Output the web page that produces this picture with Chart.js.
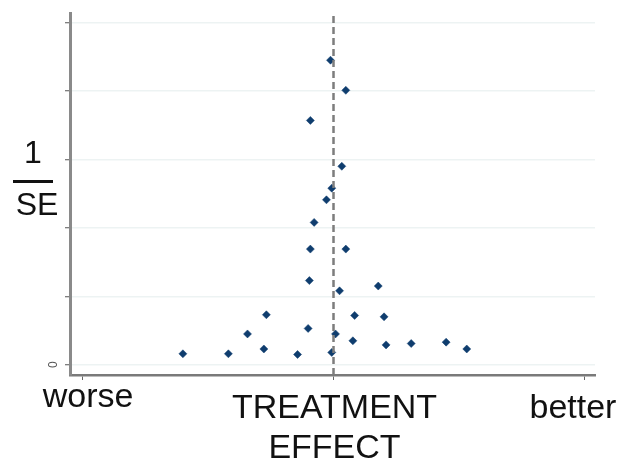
<!DOCTYPE html>
<html>
<head>
<meta charset="utf-8">
<script src="https://cdn.jsdelivr.net/npm/chart.js@4.4.1/dist/chart.umd.min.js"></script>
<style>
  html, body { margin: 0; padding: 0; background: #fff; }
  #wrap { width: 619px; height: 462px; }
</style>
</head>
<body>
<div id="wrap"><canvas id="funnel" width="619" height="462"></canvas></div>
<script>
// treatment effect (x) and precision 1/SE (y) of each study
const effects = [
  -0.012, 0.049, -0.092, 0.033, -0.007, -0.028, -0.077,
  -0.092, 0.049, -0.096, 0.178, 0.024, -0.267, 0.084,
  0.201, -0.101, -0.342, 0.008, 0.077, -0.277, 0.209,
  0.309, 0.448, 0.530, -0.599, -0.418, -0.143, -0.007,
];
const precision = [
  4.45, 4.01, 3.57, 2.90, 2.58, 2.41, 2.08,
  1.69, 1.69, 1.23, 1.15, 1.08, 0.73, 0.72,
  0.70, 0.53, 0.45, 0.45, 0.35, 0.23, 0.29,
  0.31, 0.33, 0.23, 0.16, 0.16, 0.15, 0.18,
];
const xTicks = [-1, 0, 1];
const xTickLabels = ["worse", ["TREATMENT", "EFFECT"], "better"];
const yTicks = [0, 1, 2, 3, 4, 5];
const yTickLabels = ["0", "", "", "", "", ""];
const xMin = -1.048, xMax = 1.04;
const yMin = -0.15, yMax = 5.14;

const points = effects.map((e, i) => ({ x: e, y: precision[i] }));

// draws the tick labels and the fraction-style y title
const labelsPlugin = {
  id: "funnelLabels",
  afterDraw(chart) {
    const ctx = chart.ctx;
    const xs = chart.scales.x;
    const ys = chart.scales.y;
    ctx.save();
    ctx.fillStyle = "#111";
    ctx.textAlign = "center";
    ctx.textBaseline = "alphabetic";
    ctx.font = "34px 'Liberation Sans', Arial, sans-serif";
    const shift = [{ dx: 6, dy: -11 }, { dx: 1, dy: 0 }, { dx: -12, dy: 0 }];
    xTicks.forEach((t, i) => {
      const px = xs.getPixelForValue(t) + shift[i].dx;
      const lines = [].concat(xTickLabels[i]);
      lines.forEach((line, j) => {
        ctx.fillText(line, px, 418 + shift[i].dy + j * 40);
      });
    });

    // y tick labels, rotated
    ctx.fillStyle = "#555";
    ctx.font = "12px 'Liberation Sans', Arial, sans-serif";
    yTicks.forEach((t, i) => {
      if (!yTickLabels[i]) return;
      ctx.save();
      ctx.translate(57, ys.getPixelForValue(t));
      ctx.rotate(-Math.PI / 2);
      ctx.textBaseline = "alphabetic";
      ctx.fillText(yTickLabels[i], 0, 0);
      ctx.restore();
    });

    // y title: 1 / SE
    ctx.fillStyle = "#111";
    ctx.font = "32px 'Liberation Sans', Arial, sans-serif";
    ctx.fillText("1", 33, 163);
    ctx.fillRect(13, 180, 40, 3);
    ctx.fillText("SE", 37, 215);
    ctx.restore();
  },
};

new Chart(document.getElementById("funnel"), {
  type: "scatter",
  data: {
    datasets: [
      {
        type: "line",
        data: [{ x: 0, y: yMin }, { x: 0, y: yMax }],
        borderColor: "#7d7d7d",
        borderWidth: 2.5,
        borderDash: [7, 4],
        pointRadius: 0,
        fill: false,
      },
      {
        data: points,
        pointStyle: "rectRot",
        pointRadius: 4,
        pointHoverRadius: 4,
        backgroundColor: "#0f3d6e",
        borderColor: "#0f3d6e",
        borderWidth: 0.5,
      },
    ],
  },
  options: {
    responsive: false,
    animation: false,
    events: [],
    layout: { padding: { top: 13, right: 24, left: 0, bottom: 0 } },
    plugins: { legend: { display: false }, tooltip: { enabled: false } },
    scales: {
      x: {
        type: "linear",
        min: xMin,
        max: xMax,
        afterBuildTicks: (s) => { s.ticks = xTicks.map((v) => ({ value: v })); },
        afterFit: (s) => { s.height = 87; },
        ticks: { display: false },
        grid: { drawOnChartArea: false, drawTicks: true, tickLength: 5, tickColor: "#666", tickWidth: 1 },
        border: { color: "#7a7a7a", width: 2.5 },
      },
      y: {
        type: "linear",
        min: yMin,
        max: yMax,
        afterBuildTicks: (s) => { s.ticks = yTicks.map((v) => ({ value: v })); },
        afterFit: (s) => { s.width = 70; },
        ticks: { display: false },
        grid: { color: "#edf3f3", lineWidth: 1.5, drawTicks: true, tickLength: 5, tickColor: "#555", tickWidth: 1 },
        border: { color: "#8a8a8a", width: 3 },
      },
    },
  },
  plugins: [labelsPlugin],
});
</script>
</body>
</html>
